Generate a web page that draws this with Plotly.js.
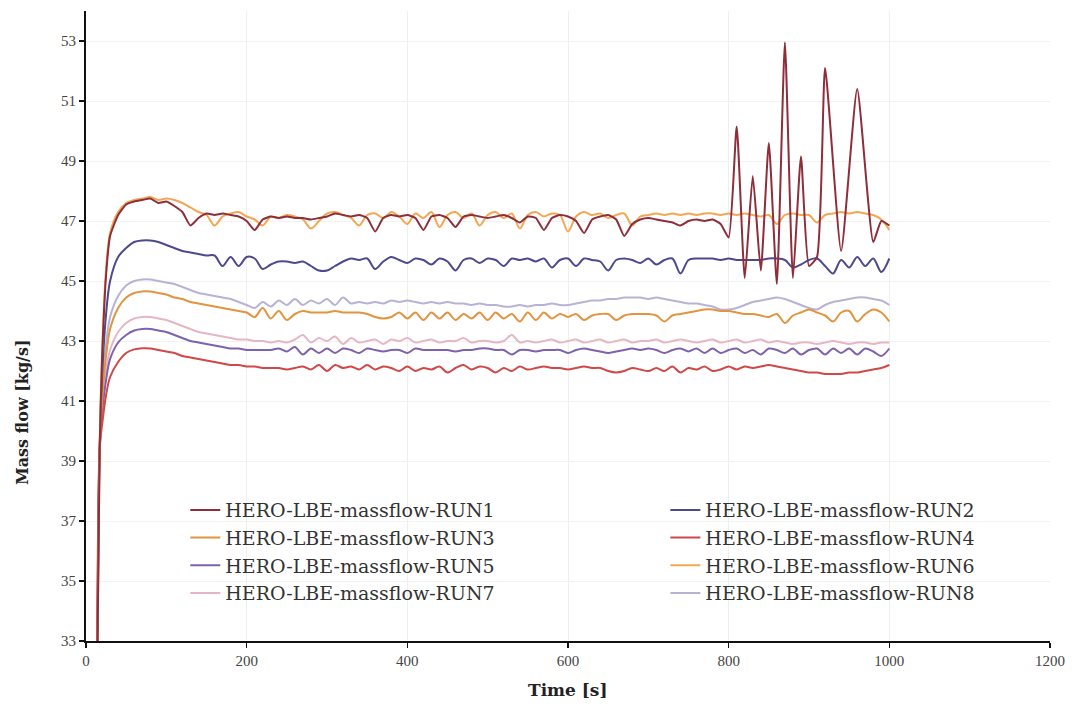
<!DOCTYPE html>
<html>
<head>
<meta charset="utf-8">
<script src="https://cdn.plot.ly/plotly-3.0.1.min.js"></script>
<style>html,body{margin:0;padding:0;background:#fff;}#chart{width:1078px;height:712px;}</style>
</head>
<body>
<div id="chart"></div>
<script>
// Shared time axis [s]
const time = [14,17,20,25,30,40,50,60,70,80,90,
  100,110,120,130,140,150,160,170,180,190,
  200,210,220,230,240,250,260,270,280,290,
  300,310,320,330,340,350,360,370,380,390,
  400,410,420,430,440,450,460,470,480,490,
  500,510,520,530,540,550,560,570,580,590,
  600,610,620,630,640,650,660,670,680,690,
  700,710,720,730,740,750,760,770,780,790,
  800,810,820,830,840,850,860,870,880,890,
  900,910,920,930,940,950,960,970,980,990,1000];

const run1 = [32.0,39.4,42.4,45.2,46.5,47.2,47.55,47.65,47.7,47.75,47.6,
  47.65,47.5,47.3,46.85,47.1,47.25,47.2,47.25,47.2,47.15,
  47.0,46.7,47.05,47.15,47.1,47.15,47.1,47.1,47.05,47.1,
  47.15,47.25,47.2,47.15,47.2,47.1,46.65,47.1,47.2,47.15,
  47.2,47.1,46.7,47.15,47.2,47.1,46.8,47.15,47.2,47.15,
  47.1,47.15,47.2,47.1,46.95,47.15,47.1,46.7,47.1,47.2,
  47.15,47.0,46.6,47.05,47.15,47.2,47.05,46.5,46.9,47.05,
  47.1,47.05,47.0,46.95,46.85,47.0,47.05,47.0,47.05,46.9,
  46.45,50.15,45.1,48.5,45.35,49.6,44.9,52.95,45.1,49.15,
  45.5,45.8,52.1,null,46.0,null,51.4,null,46.3,47.0,46.85];

const run2 = [32.0,39.4,41.8,43.9,45.0,45.8,46.1,46.3,46.35,46.35,46.3,
  46.2,46.1,46.0,45.95,45.9,45.85,45.85,45.5,45.8,45.5,
  45.8,45.75,45.4,45.55,45.65,45.65,45.6,45.65,45.5,45.35,
  45.35,45.5,45.65,45.75,45.7,45.75,45.4,45.65,45.8,45.7,
  45.6,45.75,45.7,45.55,45.75,45.65,45.35,45.7,45.75,45.6,
  45.75,45.7,45.5,45.75,45.7,45.75,45.65,45.75,45.45,45.7,
  45.75,45.5,45.75,45.7,45.65,45.35,45.7,45.75,45.7,45.6,
  45.75,45.55,45.7,45.75,45.25,45.7,45.75,45.75,45.75,45.7,
  45.75,45.7,45.7,45.7,45.7,45.75,45.75,45.7,45.45,45.55,
  45.7,45.75,45.5,45.25,45.7,45.45,45.8,45.5,45.75,45.3,45.75];

const run3 = [32.0,39.4,41.0,42.5,43.4,44.1,44.45,44.6,44.65,44.65,44.6,
  44.55,44.45,44.4,44.3,44.25,44.2,44.15,44.1,44.05,44.0,
  43.95,43.8,44.1,43.75,44.0,43.7,43.9,44.0,43.95,43.95,
  43.95,44.0,43.95,43.95,43.95,43.9,43.8,43.75,43.8,43.95,
  43.75,43.95,43.7,43.95,43.75,43.95,43.7,43.9,43.75,43.95,
  43.7,43.95,43.75,43.9,43.65,43.95,43.7,43.95,43.75,43.9,
  43.8,43.9,43.7,43.85,43.9,43.9,43.7,43.85,43.9,43.9,
  43.9,43.85,43.65,43.85,43.9,43.95,44.0,44.05,44.05,44.0,
  44.0,43.95,43.9,43.9,43.85,43.8,43.9,43.6,43.85,43.95,
  44.05,43.95,43.85,43.65,43.95,44.0,43.65,43.9,44.05,43.95,43.65];

const run4 = [32.0,39.4,40.2,41.2,41.8,42.3,42.6,42.72,42.76,42.75,42.7,
  42.65,42.6,42.5,42.45,42.4,42.35,42.3,42.25,42.2,42.2,
  42.15,42.15,42.1,42.1,42.1,42.05,42.1,42.15,42.05,42.2,
  42.0,42.2,42.1,42.15,42.05,42.2,42.05,42.15,42.1,42.0,
  42.15,42.0,42.1,42.05,42.15,41.95,42.1,42.2,42.05,42.15,
  42.1,41.95,42.1,42.0,42.15,42.05,42.1,42.15,42.1,42.1,
  42.05,42.1,42.15,42.1,42.1,42.0,41.95,42.0,42.1,42.05,
  42.0,42.1,42.0,42.15,41.95,42.1,42.05,42.15,42.0,42.05,
  42.15,42.05,42.15,42.1,42.15,42.2,42.15,42.1,42.05,42.0,
  41.95,41.95,41.9,41.9,41.9,41.95,41.95,42.0,42.05,42.1,42.2];

const run5 = [32.0,39.4,40.6,41.7,42.4,42.95,43.2,43.35,43.4,43.4,43.35,
  43.3,43.2,43.1,43.0,42.95,42.9,42.85,42.8,42.75,42.75,
  42.7,42.7,42.7,42.7,42.75,42.65,42.8,42.55,42.75,42.6,
  42.75,42.6,42.75,42.7,42.6,42.75,42.7,42.65,42.7,42.7,
  42.6,42.75,42.7,42.7,42.7,42.7,42.65,42.7,42.7,42.75,
  42.75,42.7,42.7,42.55,42.7,42.7,42.65,42.7,42.7,42.7,
  42.6,42.7,42.75,42.7,42.65,42.6,42.65,42.7,42.75,42.7,
  42.75,42.7,42.6,42.7,42.75,42.65,42.75,42.6,42.75,42.6,
  42.7,42.75,42.6,42.7,42.55,42.75,42.7,42.6,42.75,42.55,
  42.7,42.75,42.55,42.75,42.6,42.75,42.55,42.75,42.65,42.5,42.75];

const run6 = [32.0,39.5,42.6,45.4,46.6,47.3,47.6,47.7,47.75,47.8,47.7,
  47.75,47.7,47.6,47.45,47.3,47.2,46.85,47.15,47.25,47.3,
  47.15,47.05,46.85,47.15,47.1,47.2,47.15,47.05,46.75,47.0,
  47.25,47.3,47.2,47.1,46.85,47.2,47.25,47.1,47.3,47.15,
  46.9,47.25,47.1,47.3,46.8,47.2,47.3,47.1,47.25,46.85,
  47.2,47.3,47.1,47.25,46.75,47.2,47.3,47.15,47.25,47.2,
  46.65,47.15,47.3,47.2,47.25,47.1,47.2,47.25,46.85,47.15,
  47.2,47.25,47.2,47.25,47.2,47.25,47.2,47.25,47.25,47.2,
  47.25,47.2,47.25,47.2,47.15,47.2,46.9,47.2,47.25,47.2,
  47.2,46.95,47.2,47.25,47.3,47.25,47.3,47.25,47.2,47.05,46.7];

const run7 = [32.0,39.4,40.8,42.0,42.7,43.3,43.6,43.75,43.8,43.8,43.75,
  43.7,43.6,43.5,43.4,43.3,43.25,43.2,43.15,43.1,43.05,
  43.05,43.0,43.0,42.95,43.0,42.95,43.05,43.2,42.95,43.1,
  43.0,43.15,42.9,43.1,42.95,43.0,43.05,42.9,43.05,43.0,
  43.1,42.95,43.0,43.05,42.95,43.0,43.0,43.1,42.95,43.0,
  43.0,42.95,43.0,43.2,42.95,43.0,42.95,43.0,43.05,42.95,
  43.0,43.05,42.95,43.0,43.05,42.95,43.0,43.05,42.95,43.0,
  43.0,43.05,42.95,43.0,43.05,43.0,42.95,43.0,43.05,42.95,
  43.0,43.05,42.95,43.0,43.05,42.95,43.0,42.95,42.9,42.95,
  42.95,42.9,42.95,43.0,42.95,42.9,42.95,42.95,42.9,42.95,42.95];

const run8 = [32.0,39.4,41.3,42.9,43.8,44.5,44.85,45.0,45.05,45.05,45.0,
  44.95,44.9,44.8,44.7,44.6,44.55,44.5,44.45,44.4,44.3,
  44.2,44.1,44.3,44.15,44.35,44.2,44.4,44.2,44.35,44.25,
  44.4,44.2,44.45,44.25,44.3,44.25,44.3,44.25,44.35,44.3,
  44.35,44.3,44.25,44.3,44.25,44.3,44.25,44.25,44.2,44.25,
  44.2,44.2,44.15,44.15,44.2,44.15,44.2,44.2,44.25,44.2,
  44.2,44.25,44.3,44.35,44.35,44.4,44.4,44.45,44.45,44.45,
  44.4,44.45,44.4,44.35,44.3,44.25,44.25,44.2,44.15,44.05,
  44.05,44.1,44.2,44.3,44.35,44.4,44.45,44.4,44.3,44.2,
  44.1,44.05,44.2,44.3,44.35,44.4,44.45,44.45,44.4,44.35,44.2];

const seriesNames = ['HERO-LBE-massflow-RUN1','HERO-LBE-massflow-RUN2','HERO-LBE-massflow-RUN3',
  'HERO-LBE-massflow-RUN4','HERO-LBE-massflow-RUN5','HERO-LBE-massflow-RUN6',
  'HERO-LBE-massflow-RUN7','HERO-LBE-massflow-RUN8'];
const seriesValues = [run1, run2, run3, run4, run5, run6, run7, run8];
const seriesColors = ['#8E2E3B','#4C4A8E','#E2943F','#D04848','#7D62B0','#F3A752','#E6B6C4','#B8B3D6'];

const yTicks = [33,35,37,39,41,43,45,47,49,51,53];
const xTicks = [0,200,400,600,800,1000,1200];

// draw order: back to front (RUN1 on top of RUN6)
const order = [7,6,4,3,2,1,5,0];
const traces = order.map(i => ({
  type: 'scatter', mode: 'lines',
  x: time, y: seriesValues[i], name: seriesNames[i],
  connectgaps: true,
  line: {color: seriesColors[i], width: 2, shape: 'spline', smoothing: i === 0 ? 0.5 : 0.9},
  legend: (i % 2 === 0) ? 'legend' : 'legend2',
  legendgroup: 'g' + i,
  legendrank: i + 1
}));

const serif = 'Liberation Serif, Times New Roman, serif';
const wide = 'DejaVu Serif, serif';
const legendCommon = {
  bgcolor: 'rgba(0,0,0,0)', borderwidth: 0,
  font: {family: wide, size: 19, color: '#333'},
  itemwidth: 30, tracegroupgap: 1, traceorder: 'normal',
  yanchor: 'top', xanchor: 'left'
};

const layout = {
  width: 1078, height: 712,
  margin: {l: 86, r: 28, t: 11, b: 71},
  paper_bgcolor: '#fff', plot_bgcolor: '#fff',
  font: {family: serif, color: '#333'},
  showlegend: true,
  legend: Object.assign({}, legendCommon, {x: 0.103, y: 0.238}),
  legend2: Object.assign({}, legendCommon, {x: 0.601, y: 0.238}),
  xaxis: {
    range: [0, 1200], tickvals: xTicks, ticktext: xTicks.map(String),
    showgrid: true, gridcolor: '#efefef', gridwidth: 1,
    showline: true, linecolor: '#111', linewidth: 2,
    ticks: 'outside', ticklen: 5, tickcolor: '#111', tickwidth: 1.5,
    tickfont: {family: serif, size: 15, color: '#444'},
    zeroline: false
  },
  yaxis: {
    range: [33, 54], tickvals: yTicks, ticktext: yTicks.map(String),
    showgrid: true, gridcolor: '#f2f2f2', gridwidth: 1,
    showline: true, linecolor: '#111', linewidth: 2,
    ticks: 'outside', ticklen: 5, tickcolor: '#111', tickwidth: 1.5,
    tickfont: {family: serif, size: 15, color: '#444'},
    zeroline: false
  },
  annotations: [
    {text: '<b>Time [s]</b>', xref: 'paper', yref: 'paper', x: 0.5, y: -0.078,
     xanchor: 'center', yanchor: 'middle', showarrow: false,
     font: {family: wide, size: 17, color: '#222'}},
    {text: '<b>Mass flow [kg/s]</b>', xref: 'paper', yref: 'paper', x: -0.066, y: 0.364,
     xanchor: 'center', yanchor: 'middle', showarrow: false, textangle: -90,
     font: {family: wide, size: 16, color: '#222'}}
  ]
};

Plotly.newPlot('chart', traces, layout, {displayModeBar: false, staticPlot: true});
</script>
</body>
</html>
